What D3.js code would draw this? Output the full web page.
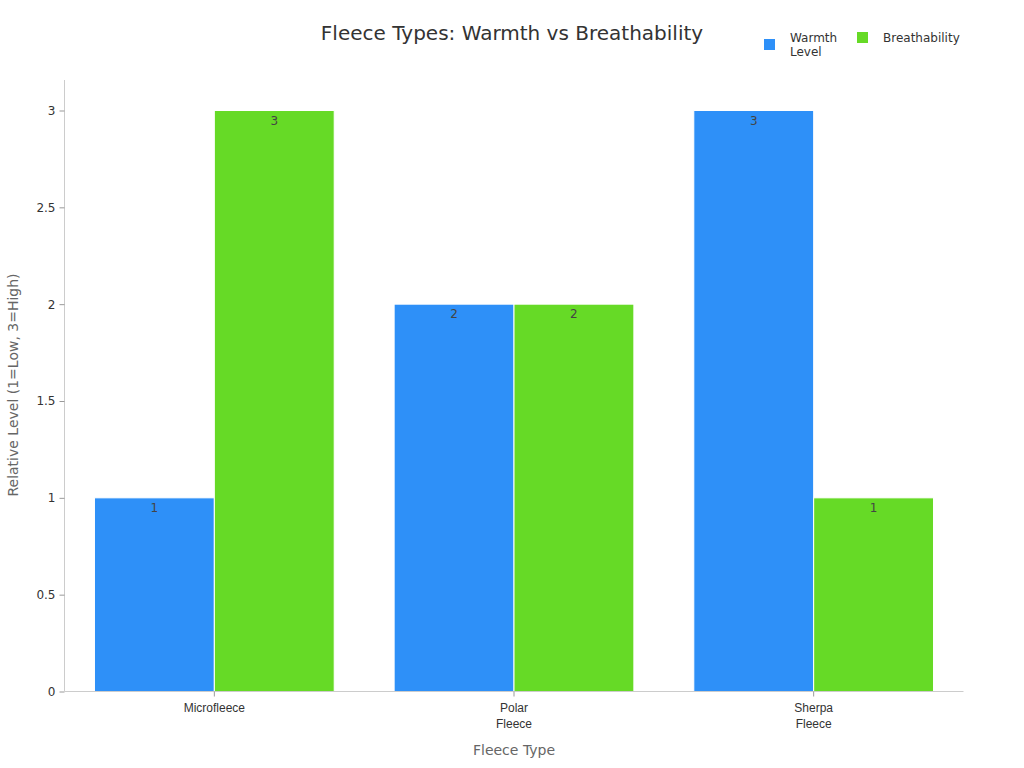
<!DOCTYPE html>
<html>
<head>
<meta charset="utf-8">
<script src="https://cdn.jsdelivr.net/npm/d3@7"></script>
<style>
body { margin: 0; background: #fff; }
svg { font-family: "DejaVu Sans", sans-serif; }
</style>
</head>
<body>
<svg id="chart" width="1024" height="768"></svg>
<script>
const categories = [["Microfleece"], ["Polar", "Fleece"], ["Sherpa", "Fleece"]];
const seriesNames = [["Warmth", "Level"], ["Breathability"]];
const warmth = [1, 2, 3];
const breathability = [3, 2, 1];
const yTicks = [0, 0.5, 1, 1.5, 2, 2.5, 3];
const colors = ["#2E90F8", "#66DA26"];

const svg = d3.select("#chart");
const margin = {left: 64.5, right: 60.5, top: 80, bottom: 76.5};
const W = 1024, H = 768;
const catKeys = categories.map(c => c.join(" "));
const x = d3.scaleBand().domain(catKeys).range([margin.left, W - margin.right]).paddingInner(0.2).paddingOuter(0.1);
const xs = d3.scaleBand().domain([0, 1]).range([0, x.bandwidth()]);
const y = d3.scaleLinear().domain([0, 3]).range([H - margin.bottom, 110.5]);

const series = [warmth, breathability];

// bars
series.forEach((vals, si) => {
  svg.append("g").selectAll("rect").data(vals).join("rect")
    .attr("x", (d, i) => x(catKeys[i]) + xs(si))
    .attr("y", d => y(d))
    .attr("width", xs.bandwidth())
    .attr("height", d => y(0) - y(d))
    .attr("fill", colors[si])
    .attr("stroke", "#fff")
    .attr("stroke-width", 1);
  svg.append("g").selectAll("text").data(vals).join("text")
    .attr("x", (d, i) => x(catKeys[i]) + xs(si) + xs.bandwidth() / 2)
    .attr("y", d => y(d) + 14)
    .attr("text-anchor", "middle")
    .attr("font-size", 12)
    .attr("fill", "#444")
    .text(d => d);
});

// y axis
const yAxis = d3.axisLeft(y).tickValues(yTicks).tickSize(5).tickPadding(4).tickFormat(d3.format("~g"));
const gy = svg.append("g").attr("transform", `translate(${margin.left},0)`).call(yAxis);
gy.select(".domain").attr("stroke", "#ccc").attr("d", `M0,${80}V${y(0)}`);
gy.selectAll(".tick line").attr("stroke", "#999");
gy.selectAll(".tick text").attr("font-size", 12).attr("fill", "#333").attr("font-family", "DejaVu Sans");

// x axis
const xAxis = d3.axisBottom(x).tickSize(5).tickPadding(3).tickFormat(() => "");
const gx = svg.append("g").attr("transform", `translate(0,${y(0)})`).call(xAxis);
gx.select(".domain").attr("stroke", "#ccc").attr("d", `M${margin.left},0H${W - margin.right}`);
gx.selectAll(".tick line").attr("stroke", "#999");
gx.selectAll(".tick").each(function(d, i) {
  const t = d3.select(this).append("text")
    .attr("text-anchor", "middle").attr("font-size", 12).attr("fill", "#333")
    .attr("y", 20);
  categories[i].forEach((line, li) => {
    t.append("tspan").attr("x", 0).attr("dy", li === 0 ? 0 : 16).text(line);
  });
});

// axis titles
svg.append("text").attr("x", x.range()[0] + (x.range()[1] - x.range()[0]) / 2).attr("y", 755)
  .attr("text-anchor", "middle").attr("font-size", 14).attr("fill", "#666").text("Fleece Type");
svg.append("text").attr("transform", `translate(18,385) rotate(-90)`)
  .attr("text-anchor", "middle").attr("font-size", 14).attr("fill", "#666").text("Relative Level (1=Low, 3=High)");

// title
svg.append("text").attr("x", 512).attr("y", 40).attr("text-anchor", "middle")
  .attr("font-size", 20).attr("fill", "#333").text("Fleece Types: Warmth vs Breathability");

// legend
const legendPos = [{sx: 764, sy: 39, tx: 790}, {sx: 857, sy: 32, tx: 883}];
seriesNames.forEach((name, si) => {
  const p = legendPos[si];
  svg.append("rect").attr("x", p.sx).attr("y", p.sy).attr("width", 11).attr("height", 11).attr("fill", colors[si]);
  const t = svg.append("text").attr("font-size", 12).attr("fill", "#333").attr("y", 42);
  name.forEach((line, li) => t.append("tspan").attr("x", p.tx).attr("dy", li === 0 ? 0 : 14).text(line));
});
</script>
</body>
</html>
